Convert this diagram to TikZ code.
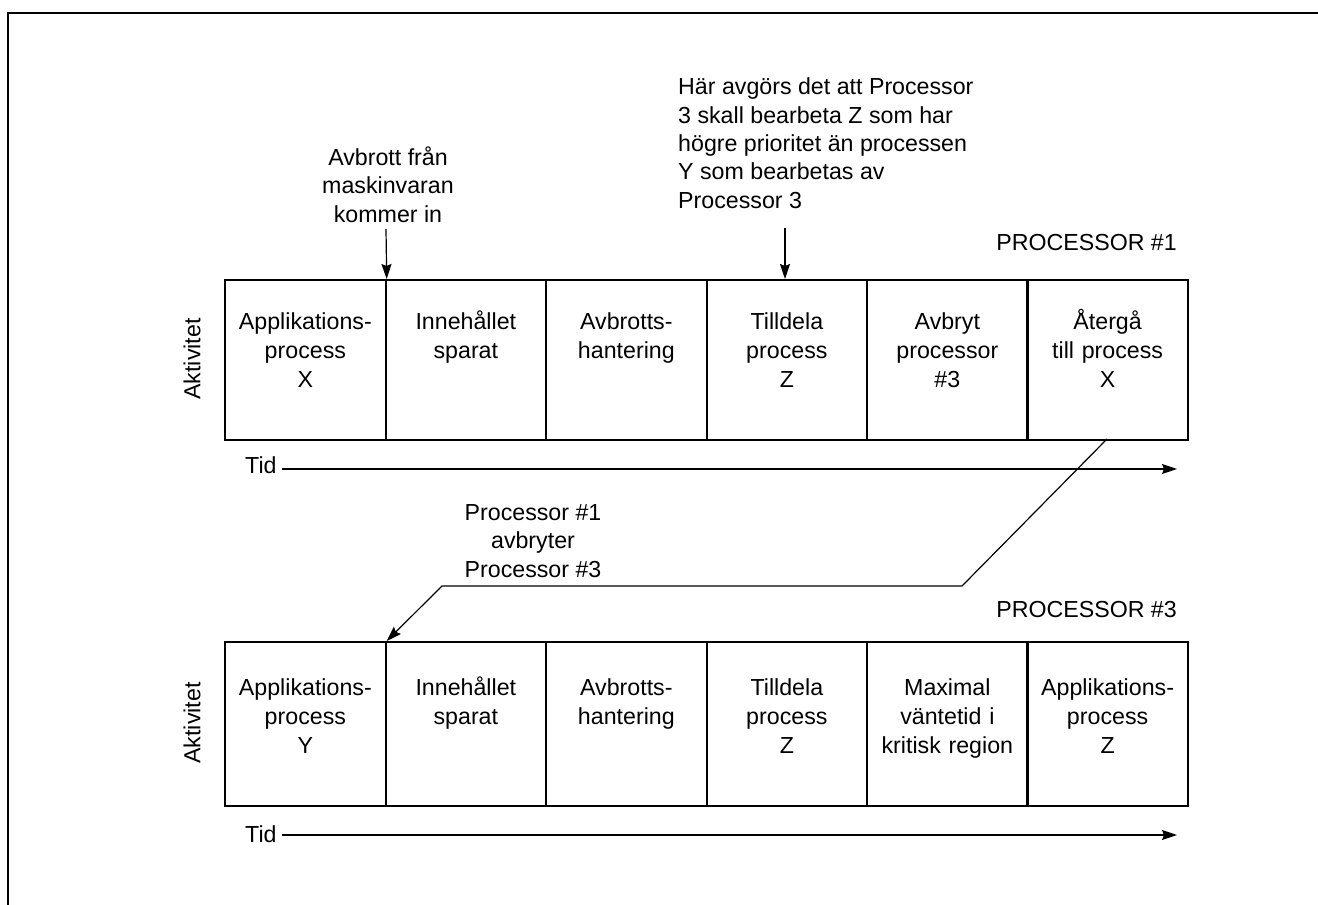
\documentclass[tikz,border=0pt]{standalone}
\usepackage{fontspec}
\setmainfont{Liberation Sans}
\usetikzlibrary{arrows.meta}
\tikzset{
  cellbox/.style={draw, line width=2.2pt, minimum width=160.5pt, minimum height=160pt, inner sep=0pt, anchor=north west},
  celltext/.style={font=\fontsize{23.2}{29}\selectfont, align=center, text width=158pt, inner sep=0pt, anchor=base},
  lbl/.style={font=\fontsize{23.2}{28.3}\selectfont, inner sep=0pt},
  arr/.style={line width=1.2pt, -{Stealth[length=15pt,width=10pt,inset=2pt]}},
  frame/.style={line width=1.5pt}
}
\begin{document}
\begin{tikzpicture}[x=1pt,y=-1pt]
\useasboundingbox (0,0) rectangle (1318,905);
% frame
\coordinate (fbl) at (8,905);
\coordinate (ftl) at (8,13);
\coordinate (ftr) at (1318,13);
\draw[frame] (fbl) -- (ftl) -- (ftr);

% ---------- Processor 1 ----------
\node[cellbox] (a1) at (224,279) {};
\node[cellbox] (a2) at (384.5,279) {};
\node[cellbox] (a3) at (545,279) {};
\node[cellbox] (a4) at (705.5,279) {};
\node[cellbox] (a5) at (866,279) {};
\node[cellbox, minimum width=161pt] (a6) at (1026,279) {};
\node[celltext] (ta1) at ([yshift=-50pt]a1.north) {Applikations-\\process\\X};
\node[celltext] (ta2) at ([yshift=-50pt]a2.north) {Innehållet\\sparat};
\node[celltext] (ta3) at ([yshift=-50pt]a3.north) {Avbrotts-\\hantering};
\node[celltext] (ta4) at ([yshift=-50pt]a4.north) {Tilldela\\process\\Z};
\node[celltext] (ta5) at ([yshift=-50pt]a5.north) {Avbryt\\processor\\\#3};
\node[celltext] (ta6) at ([yshift=-50pt]a6.north) {Återgå\\till process\\X};
\node[lbl, rotate=90] (akt1) at (192,359) {Aktivitet};
\node[lbl, anchor=base east] (p1) at (1177,250) {PROCESSOR \#1};
\node[lbl, anchor=base west] (tid1) at (245,473) {Tid};
\coordinate (t1s) at (282,469);
\coordinate (t1e) at (1177,469);
\draw[arr] (t1s) -- (t1e);

% annotations above
\node[lbl, align=center, anchor=base] (ann1) at (388,222) {Avbrott från\\maskinvaran\\kommer in};
\coordinate (ann1s) at (386,229);
\draw[arr] (ann1s) -- (a1.north east);
\node[lbl, align=left, anchor=base west] (ann2) at (678,208) {Här avgörs det att Processor\\3 skall bearbeta Z som har\\högre prioritet än processen\\Y som bearbetas av\\Processor 3};
\coordinate (ann2s) at (785,228);
\coordinate (ann2e) at (785,279);
\draw[arr] (ann2s) -- (ann2e);

% ---------- Processor 3 ----------
\node[cellbox, minimum height=164pt] (b1) at (224,641) {};
\node[cellbox, minimum height=164pt] (b2) at (384.5,641) {};
\node[cellbox, minimum height=164pt] (b3) at (545,641) {};
\node[cellbox, minimum height=164pt] (b4) at (705.5,641) {};
\node[cellbox, minimum height=164pt] (b5) at (866,641) {};
\node[cellbox, minimum height=164pt, minimum width=161pt] (b6) at (1026,641) {};
\node[celltext] (tb1) at ([yshift=-54pt]b1.north) {Applikations-\\process\\Y};
\node[celltext] (tb2) at ([yshift=-54pt]b2.north) {Innehållet\\sparat};
\node[celltext] (tb3) at ([yshift=-54pt]b3.north) {Avbrotts-\\hantering};
\node[celltext] (tb4) at ([yshift=-54pt]b4.north) {Tilldela\\process\\Z};
\node[celltext] (tb5) at ([yshift=-54pt]b5.north) {Maximal\\väntetid i\\kritisk region};
\node[celltext] (tb6) at ([yshift=-54pt]b6.north) {Applikations-\\process\\Z};
\node[lbl, rotate=90] (akt3) at (192,723) {Aktivitet};
\node[lbl, anchor=base east] (p3) at (1177,617) {PROCESSOR \#3};
\node[lbl, anchor=base west] (tid3) at (245,842) {Tid};
\coordinate (t3s) at (282,835);
\coordinate (t3e) at (1177,835);
\draw[arr] (t3s) -- (t3e);

% interrupt connector
\node[lbl, align=center, anchor=base] (ann3) at (533,577) {Processor \#1\\avbryter\\Processor \#3};
\coordinate (c0) at (1107,439);
\coordinate (c1) at (962,586);
\coordinate (c2) at (442,586);
\draw[arr] (c0) -- (c1) -- (c2) -- (b1.north east);
\end{tikzpicture}
\end{document}
